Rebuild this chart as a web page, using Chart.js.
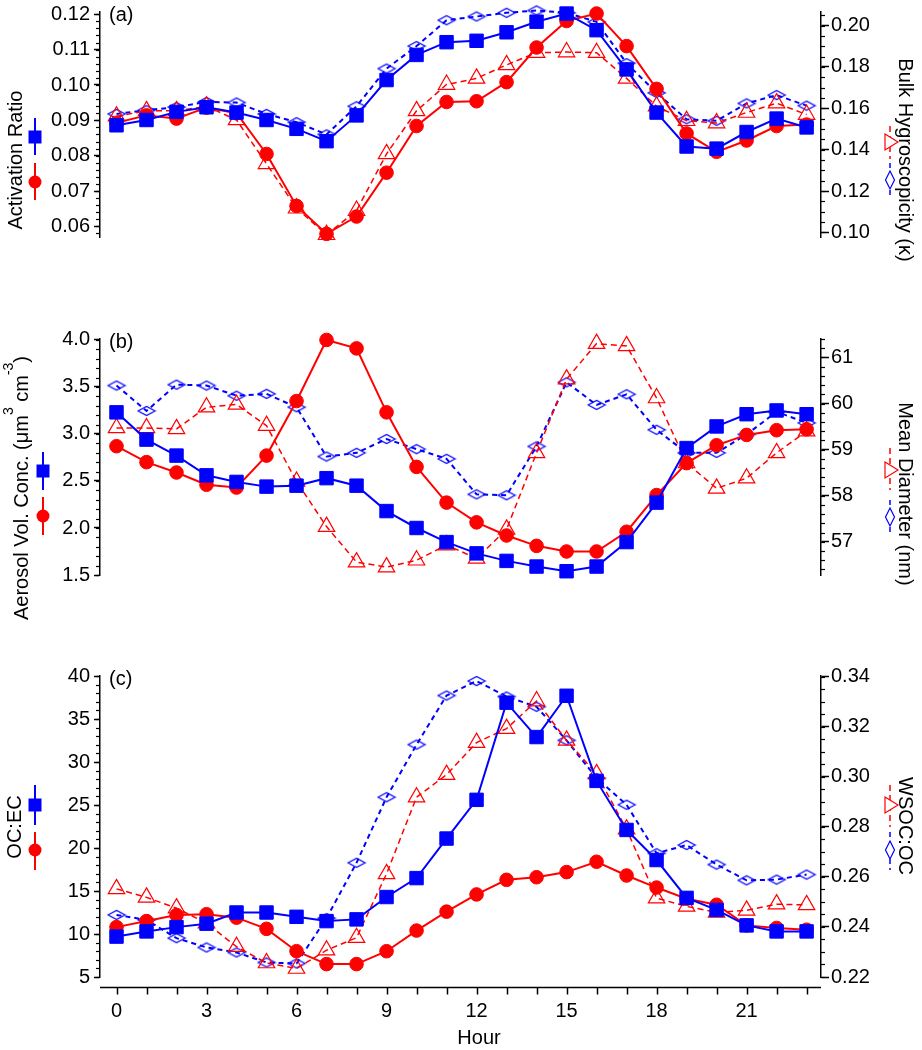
<!DOCTYPE html>
<html>
<head>
<meta charset="utf-8">
<title>Diurnal cycles</title>
<script src="https://cdn.jsdelivr.net/npm/chart.js@4.4.1/dist/chart.umd.min.js"></script>
<style>
  html, body { margin: 0; padding: 0; background: #fff; }
  #wrap { position: relative; width: 922px; height: 1050px; }
  #wrap canvas { position: absolute; left: 0; }
</style>
</head>
<body>
<div id="wrap">
  <canvas id="panelA" width="922" height="325" style="top:0px"></canvas>
  <canvas id="panelB" width="922" height="335" style="top:325px"></canvas>
  <canvas id="panelC" width="922" height="390" style="top:660px"></canvas>
</div>
<script>
// ---- data ----
const hours = [0, 1, 2, 3, 4, 5, 6, 7, 8, 9, 10, 11, 12, 13, 14, 15, 16, 17, 18, 19, 20, 21, 22, 23];
const hourLabels = [0, 3, 6, 9, 12, 15, 18, 21];

// (a) activation ratio (left) and bulk hygroscopicity kappa (right)
const activationBlue = [0.0886, 0.0901, 0.0924, 0.0937, 0.0922, 0.0901, 0.0876, 0.0841, 0.0914, 0.1014, 0.1085, 0.1121, 0.1125, 0.1149, 0.1179, 0.1202, 0.1155, 0.1044, 0.0922, 0.0826, 0.0820, 0.0867, 0.0905, 0.0880];
const activationRed = [0.0893, 0.0914, 0.0905, 0.0936, 0.0920, 0.0805, 0.0658, 0.0579, 0.0628, 0.0752, 0.0884, 0.0952, 0.0954, 0.1008, 0.1106, 0.1181, 0.1202, 0.1110, 0.0989, 0.0863, 0.0811, 0.0843, 0.0884, 0.0888];
const kappaRed = [0.1562, 0.1588, 0.1588, 0.1610, 0.1544, 0.1332, 0.1117, 0.0989, 0.1106, 0.1380, 0.1588, 0.1715, 0.1745, 0.1810, 0.1869, 0.1872, 0.1869, 0.1745, 0.1610, 0.1540, 0.1529, 0.1580, 0.1625, 0.1570];
const kappaBlue = [0.1573, 0.1591, 0.1606, 0.1631, 0.1628, 0.1573, 0.1533, 0.1474, 0.1610, 0.1792, 0.1901, 0.2026, 0.2044, 0.2062, 0.2073, 0.2062, 0.2018, 0.1818, 0.1675, 0.1547, 0.1540, 0.1624, 0.1664, 0.1613];

// (b) aerosol volume concentration (left) and mean diameter (right)
const volumeBlue = [3.23, 2.94, 2.77, 2.56, 2.49, 2.44, 2.45, 2.53, 2.45, 2.18, 2.00, 1.85, 1.73, 1.65, 1.59, 1.54, 1.59, 1.85, 2.27, 2.85, 3.08, 3.21, 3.25, 3.21];
const volumeRed = [2.87, 2.70, 2.59, 2.46, 2.43, 2.77, 3.35, 4.00, 3.91, 3.23, 2.65, 2.27, 2.06, 1.92, 1.81, 1.75, 1.75, 1.96, 2.35, 2.69, 2.88, 2.99, 3.04, 3.05];
const diameterRed = [59.47, 59.47, 59.45, 59.92, 59.98, 59.52, 58.31, 57.33, 56.56, 56.45, 56.60, 56.93, 56.64, 57.27, 58.93, 60.53, 61.30, 61.25, 60.12, 58.71, 58.16, 58.38, 58.93, 59.40];
const diameterBlue = [60.39, 59.84, 60.41, 60.39, 60.17, 60.21, 59.92, 58.85, 58.93, 59.23, 59.01, 58.80, 58.03, 58.01, 59.07, 60.46, 59.97, 60.20, 59.43, 58.93, 58.93, 59.33, 59.82, 59.58];

// (c) OC:EC (left) and WSOC:OC (right)
const ocecBlue = [9.7, 10.3, 10.8, 11.2, 12.5, 12.5, 12.0, 11.5, 11.7, 14.3, 16.5, 21.1, 25.6, 36.9, 32.9, 37.7, 27.8, 22.1, 18.6, 14.2, 12.8, 11.0, 10.3, 10.3];
const ocecRed = [10.8, 11.5, 12.2, 12.3, 11.9, 10.6, 8.0, 6.5, 6.5, 8.0, 10.4, 12.6, 14.6, 16.3, 16.6, 17.2, 18.4, 16.8, 15.4, 14.1, 13.4, 11.0, 10.7, 10.5];
const wsocRed = [0.2552, 0.2518, 0.2475, 0.2415, 0.2321, 0.2256, 0.2234, 0.2307, 0.2357, 0.2612, 0.2918, 0.3008, 0.3136, 0.3192, 0.3302, 0.3145, 0.3011, 0.2790, 0.2515, 0.2482, 0.2458, 0.2466, 0.2491, 0.2488];
const wsocBlue = [0.2448, 0.2428, 0.2355, 0.2318, 0.2298, 0.2258, 0.2254, 0.2435, 0.2656, 0.2918, 0.3128, 0.3324, 0.3382, 0.3320, 0.3279, 0.3145, 0.2994, 0.2888, 0.2694, 0.2727, 0.2649, 0.2586, 0.2589, 0.2609];

// axis tick labels
const ticksActivation = [0.06, 0.07, 0.08, 0.09, 0.10, 0.11, 0.12];
const ticksKappa = [0.10, 0.12, 0.14, 0.16, 0.18, 0.20];
const ticksVolume = [1.5, 2.0, 2.5, 3.0, 3.5, 4.0];
const ticksDiameter = [57, 58, 59, 60, 61];
const ticksOcec = [5, 10, 15, 20, 25, 30, 35, 40];
const ticksWsoc = [0.22, 0.24, 0.26, 0.28, 0.30, 0.32, 0.34];

// ---- styling ----
const BLUE = '#0000ff';
const RED = '#ff0000';
const FONT = '"Liberation Sans", Arial, Helvetica, sans-serif';
Chart.defaults.font.family = FONT;
Chart.defaults.font.size = 20;
Chart.defaults.color = '#000';

// flat open diamond used as the point style of the dashed blue series
function makeDiamond() {
    const c = document.createElement('canvas');
    c.width = 20; c.height = 12;
    const g = c.getContext('2d');
    g.strokeStyle = BLUE;
    g.lineWidth = 1.2;
    g.beginPath();
    g.moveTo(1.5, 6); g.lineTo(10, 1.5); g.lineTo(18.5, 6); g.lineTo(10, 10.5);
    g.closePath();
    g.stroke();
    return c;
}
const diamondMarker = makeDiamond();

function series(values, kind, axis) {
    const data = values.map((v, i) => ({ x: hours[i], y: v }));
    const base = { data, yAxisID: axis, clip: false, tension: 0, fill: false };
    if (kind === 'square') {
        return Object.assign(base, { borderColor: BLUE, borderWidth: 2, pointStyle: 'rect', pointRadius: 9.5,
            pointBackgroundColor: BLUE, pointBorderColor: BLUE, pointBorderWidth: 1 });
    }
    if (kind === 'circle') {
        return Object.assign(base, { borderColor: RED, borderWidth: 2, pointStyle: 'circle', pointRadius: 6.8,
            pointBackgroundColor: RED, pointBorderColor: RED, pointBorderWidth: 1 });
    }
    if (kind === 'triangle') {
        return Object.assign(base, { borderColor: RED, borderWidth: 1.5, borderDash: [6, 4], pointStyle: 'triangle',
            pointRadius: 9.5, pointBackgroundColor: 'rgba(0,0,0,0)', pointBorderColor: RED, pointBorderWidth: 1.2 });
    }
    return Object.assign(base, { borderColor: BLUE, borderWidth: 2, borderDash: [5, 4], pointStyle: diamondMarker,
        pointRadius: 8, pointBackgroundColor: 'rgba(0,0,0,0)', pointBorderColor: BLUE });
}

function yAxis(position, min, max, tickValues, decimals) {
    const left = position === 'left';
    return {
        type: 'linear', position, min, max,
        afterBuildTicks: s => { s.ticks = tickValues.map(v => ({ value: v })); },
        afterFit: s => { s.width = left ? 100 : 101; s.paddingTop = 0; s.paddingBottom = 0; },
        ticks: { callback: v => Number(v).toFixed(decimals), padding: left ? 4 : 2, color: '#000', font: { size: 20 } },
        grid: { drawOnChartArea: false, tickLength: left ? 6 : 8, tickWidth: 1.5, tickColor: '#000' },
        border: { color: '#000', width: 1.5 }
    };
}

function xAxis(show) {
    return {
        type: 'linear', min: -0.55, max: 23.48, display: show,
        afterBuildTicks: s => { s.ticks = hours.map(v => ({ value: v })); },
        afterFit: s => { s.height = 73; },
        ticks: { callback: v => (hourLabels.includes(v) ? String(v) : ''), padding: 22, maxRotation: 0, autoSkip: false,
            color: '#000', font: { size: 20 } },
        grid: { display: false, drawTicks: false },
        border: { display: false }
    };
}

// minor ticks, rotated axis titles with their keys, panel letters, offset hour axis
function drawText(ctx, parts, cx, cy, angle) {
    ctx.save();
    ctx.translate(cx, cy);
    ctx.rotate(angle);
    let total = 0;
    parts.forEach(p => {
        ctx.font = (p.sup ? '14px ' : '20px ') + FONT;
        p.w = ctx.measureText(p.t).width;
        total += p.w;
    });
    let x = -total / 2;
    ctx.textAlign = 'left';
    ctx.textBaseline = 'middle';
    ctx.fillStyle = '#000';
    parts.forEach(p => {
        ctx.font = (p.sup ? '14px ' : '20px ') + FONT;
        ctx.fillText(p.t, x, p.sup ? -13 : 0);
        x += p.w;
    });
    ctx.restore();
}

function drawKey(ctx, k, top) {
    const y0 = k.y0 - top, y1 = k.y1 - top, ym = k.ym - top, x = k.x;
    ctx.save();
    ctx.lineWidth = k.dash ? 1.5 : 2;
    ctx.strokeStyle = k.color;
    ctx.fillStyle = k.color;
    ctx.setLineDash(k.dash || []);
    ctx.beginPath(); ctx.moveTo(x, y0); ctx.lineTo(x, y1); ctx.stroke();
    ctx.setLineDash([]);
    ctx.lineWidth = 1.2;
    if (k.marker === 'square') {
        ctx.fillRect(x - 6.5, ym - 6.5, 13, 13);
    } else if (k.marker === 'circle') {
        ctx.beginPath(); ctx.arc(x, ym, 6.5, 0, Math.PI * 2); ctx.fill();
    } else if (k.marker === 'triangle') {
        ctx.fillStyle = '#fff';
        ctx.beginPath(); ctx.moveTo(x - 5, ym - 8); ctx.lineTo(x + 8, ym); ctx.lineTo(x - 5, ym + 8); ctx.closePath();
        ctx.fill(); ctx.stroke();
    } else {
        ctx.fillStyle = '#fff';
        ctx.beginPath(); ctx.moveTo(x, ym - 9); ctx.lineTo(x + 4.5, ym); ctx.lineTo(x, ym + 9); ctx.lineTo(x - 4.5, ym);
        ctx.closePath(); ctx.fill(); ctx.stroke();
    }
    ctx.restore();
}

const figureDeco = {
    id: 'figureDeco',
    afterDraw(chart, args, o) {
        const ctx = chart.ctx;
        const top = o.offsetTop;
        ctx.save();
        ctx.strokeStyle = '#000';
        ctx.lineWidth = 1.2;
        Object.entries(o.minor).forEach(([id, step]) => {
            const s = chart.scales[id];
            const left = s.position === 'left';
            const x0 = left ? s.right : s.left;
            const n0 = Math.ceil(s.min / step - 1e-6), n1 = Math.floor(s.max / step + 1e-6);
            for (let n = n0; n <= n1; n++) {
                const y = Math.round(s.getPixelForValue(n * step)) + 0.5;
                ctx.beginPath(); ctx.moveTo(x0, y); ctx.lineTo(x0 + (left ? -4 : 4), y); ctx.stroke();
            }
        });

        if (o.hourAxis) {
            const xs = chart.scales.x;
            const y = chart.chartArea.bottom + 10.5;
            ctx.lineWidth = 1.5;
            ctx.beginPath(); ctx.moveTo(xs.left, y); ctx.lineTo(xs.right, y); ctx.stroke();
            hours.forEach(h => {
                const x = Math.round(xs.getPixelForValue(h)) + 0.5;
                ctx.beginPath(); ctx.moveTo(x, y); ctx.lineTo(x, y + 7); ctx.stroke();
            });
            ctx.fillStyle = '#000';
            ctx.font = '20px ' + FONT;
            ctx.textAlign = 'center';
            ctx.textBaseline = 'middle';
            ctx.fillText('Hour', 479, 1038 - top);
        }

        ctx.fillStyle = '#000';
        ctx.font = '20px ' + FONT;
        ctx.textAlign = 'left';
        ctx.textBaseline = 'middle';
        ctx.fillText(o.letter, chart.chartArea.left + 9, chart.chartArea.top + 3);

        o.titles.forEach(t => drawText(ctx, t.parts, t.x, t.y - top, t.angle));
        o.keys.forEach(k => drawKey(ctx, k, top));
        ctx.restore();
    }
};

function makePanel(id, cfg) {
    const ctx = document.getElementById(id).getContext('2d');
    return new Chart(ctx, {
        type: 'line',
        data: { datasets: cfg.datasets },
        options: {
            responsive: false,
            animation: false,
            devicePixelRatio: 1,
            layout: { padding: { top: cfg.padTop, bottom: cfg.padBottom, left: 0, right: 0 } },
            scales: { x: xAxis(cfg.hourAxis), yL: cfg.yL, yR: cfg.yR },
            plugins: {
                legend: { display: false },
                tooltip: { enabled: false },
                figureDeco: cfg.deco
            }
        },
        plugins: [figureDeco]
    });
}

const UP = -Math.PI / 2, DOWN = Math.PI / 2;
const DASH_RED = [6, 4], DASH_BLUE = [5, 4];

const panelA = makePanel('panelA', {
    padTop: 12, padBottom: 15, hourAxis: false,
    datasets: [
        series(activationBlue, 'square', 'yL'),
        series(activationRed, 'circle', 'yL'),
        series(kappaRed, 'triangle', 'yR'),
        series(kappaBlue, 'diamond', 'yR')
    ],
    yL: yAxis('left', 0.05701, 0.12064, ticksActivation, 2),
    yR: yAxis('right', 0.09781, 0.20657, ticksKappa, 2),
    deco: {
        offsetTop: 0, letter: '(a)', minor: { yL: 0.002, yR: 0.005 },
        titles: [
            { parts: [{ t: 'Activation Ratio' }], x: 16, y: 160, angle: UP },
            { parts: [{ t: 'Bulk Hygroscopicity (\u03BA)' }], x: 905, y: 160, angle: DOWN }
        ],
        keys: [
            { x: 35, y0: 118, y1: 155, ym: 137, color: BLUE, marker: 'square' },
            { x: 35, y0: 163, y1: 200, ym: 182, color: RED, marker: 'circle' },
            { x: 890, y0: 126, y1: 159, ym: 142, color: RED, marker: 'triangle', dash: DASH_RED },
            { x: 890, y0: 163, y1: 196, ym: 180, color: BLUE, marker: 'diamond', dash: DASH_BLUE }
        ]
    }
});

const panelB = makePanel('panelB', {
    padTop: 14, padBottom: 12, hourAxis: false,
    datasets: [
        series(volumeBlue, 'square', 'yL'),
        series(volumeRed, 'circle', 'yL'),
        series(diameterRed, 'triangle', 'yR'),
        series(diameterBlue, 'diamond', 'yR')
    ],
    yL: yAxis('left', 1.5, 4.01, ticksVolume, 1),
    yR: yAxis('right', 56.28, 61.40, ticksDiameter, 0),
    deco: {
        offsetTop: 325, letter: '(b)', minor: { yL: 0.1, yR: 0.2 },
        titles: [
            { parts: [{ t: 'Aerosol Vol. Conc. (\u03BCm' }, { t: '3', sup: true }, { t: ' cm' }, { t: '-3', sup: true }, { t: ')' }],
              x: 22, y: 488, angle: UP },
            { parts: [{ t: 'Mean Diameter (nm)' }], x: 905, y: 494, angle: DOWN }
        ],
        keys: [
            { x: 43, y0: 452, y1: 490, ym: 471, color: BLUE, marker: 'square' },
            { x: 43, y0: 497, y1: 535, ym: 516, color: RED, marker: 'circle' },
            { x: 890, y0: 448, y1: 490, ym: 470, color: RED, marker: 'triangle', dash: DASH_RED },
            { x: 890, y0: 500, y1: 535, ym: 517, color: BLUE, marker: 'diamond', dash: DASH_BLUE }
        ]
    }
});

const panelC = makePanel('panelC', {
    padTop: 16, padBottom: 0, hourAxis: true,
    datasets: [
        series(ocecBlue, 'square', 'yL'),
        series(ocecRed, 'circle', 'yL'),
        series(wsocRed, 'triangle', 'yR'),
        series(wsocBlue, 'diamond', 'yR')
    ],
    yL: yAxis('left', 5, 40, ticksOcec, 0),
    yR: yAxis('right', 0.22, 0.3402, ticksWsoc, 2),
    deco: {
        offsetTop: 660, letter: '(c)', minor: { yL: 1, yR: 0.005 }, hourAxis: true,
        titles: [
            { parts: [{ t: 'OC:EC' }], x: 15, y: 827, angle: UP },
            { parts: [{ t: 'WSOC:OC' }], x: 905, y: 826, angle: DOWN }
        ],
        keys: [
            { x: 35, y0: 785, y1: 825, ym: 805, color: BLUE, marker: 'square' },
            { x: 35, y0: 832, y1: 870, ym: 850, color: RED, marker: 'circle' },
            { x: 890, y0: 785, y1: 827, ym: 805, color: RED, marker: 'triangle', dash: DASH_RED },
            { x: 890, y0: 832, y1: 870, ym: 850, color: BLUE, marker: 'diamond', dash: DASH_BLUE }
        ]
    }
});

window.figurePanels = { a: panelA, b: panelB, c: panelC };
</script>
</body>
</html>
